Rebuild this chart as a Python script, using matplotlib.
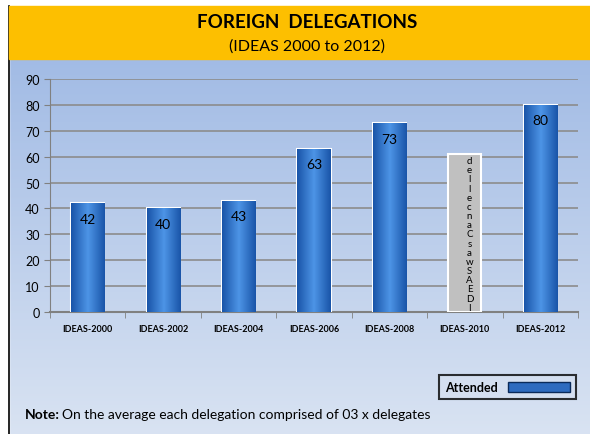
import numpy as np
import matplotlib.pyplot as plt
from matplotlib.patches import Rectangle, Patch

plt.rcParams['font.family'] = ['Lato', 'DejaVu Sans']

categories = ['IDEAS-2000', 'IDEAS-2002', 'IDEAS-2004', 'IDEAS-2006',
              'IDEAS-2008', 'IDEAS-2010', 'IDEAS-2012']
attended = [42, 40, 43, 63, 73, np.nan, 80]
cancelled_height = 61
cancelled_text = 'IDEAS was Cancelled'

fig = plt.figure(figsize=(5.9, 4.35), dpi=100)

# background gradient
bg = fig.add_axes([0, 0, 1, 1], zorder=-10)
grad = np.linspace(0, 1, 256).reshape(-1, 1)
top_c = np.array([0.60, 0.71, 0.89])
bot_c = np.array([0.85, 0.89, 0.95])
img = top_c * (1 - grad[..., None]) + bot_c * grad[..., None]
img = np.repeat(img, 2, axis=1)
bg.imshow(img, aspect='auto', extent=[0, 1, 0, 1])
bg.set_xlim(0, 1)
bg.set_ylim(0, 1)
bg.axis('off')
bg.add_patch(Rectangle((0, 0), 9 / 590, 1, color='white', zorder=2))
bg.plot([9 / 590, 9 / 590], [0, 1 - 7 / 435], color='black', lw=1.2, zorder=3)
bg.add_patch(Rectangle((0, 1 - 7 / 435), 1, 7 / 435, color='white', zorder=2))
bg.add_patch(Rectangle((9 / 590, 1 - 60 / 435), 1, 53 / 435,
                       color='#fdbf00', zorder=3))

fig.text(0.52, 1 - 22 / 435, 'FOREIGN  DELEGATIONS', ha='center', va='center',
         fontsize=13.5, fontweight='bold', color='black')
fig.text(0.52, 1 - 47 / 435, '(IDEAS 2000 to 2012)', ha='center', va='center',
         fontsize=11.5, color='black')

ax = fig.add_axes([50 / 590, 1 - 313 / 435, 528 / 590, 233 / 435])
ax.patch.set_alpha(0)
x = np.arange(len(categories))
w = 0.44

bars = ax.bar(x, attended, w, color='#2e6bbf', edgecolor='white', lw=1.5,
              zorder=3)
# horizontal gradient on bars
cmap_img = np.zeros((2, 128, 3))
dark = np.array([0.10, 0.33, 0.66])
light = np.array([0.30, 0.58, 0.90])
t = np.concatenate([np.linspace(0, 1, 64), np.linspace(1, 0, 64)])
cmap_img[:, :, :] = dark * (1 - t[:, None]) + light * t[:, None]
for b, v in zip(bars, attended):
    if np.isnan(v):
        continue
    im = ax.imshow(cmap_img, aspect='auto', zorder=3.5,
                   extent=[b.get_x(), b.get_x() + b.get_width(), 0, v])
    im.set_clip_path(b)
    ax.text(b.get_x() + b.get_width() / 2, v - 6, f'{int(v)}', ha='center',
            va='center', fontsize=10, color='black', zorder=5)

i10 = categories.index('IDEAS-2010')
ax.bar(i10, cancelled_height, w, color='#c0c0c0', edgecolor='white', lw=1.5,
       zorder=3)
letters = [c for c in cancelled_text[::-1] if c != ' ']
n = len(letters)
ys = np.linspace(cancelled_height - 2.5, 1.8, n)
for c, yy in zip(letters, ys):
    ax.text(i10 + 0.06, yy, c, ha='center', va='center', fontsize=7,
            color='black', zorder=5)

ax.set_xlim(-0.5, len(categories) - 0.5)
ax.set_ylim(0, 90)
ax.set_yticks(np.arange(0, 91, 10))
ax.set_xticks(x)
ax.set_xticklabels(categories, fontsize=6.5, fontweight='bold')
ax.tick_params(axis='y', labelsize=9, length=4, color='#808080')
ax.tick_params(axis='x', length=0, pad=9)
ax.set_xticks(np.arange(-0.5, len(categories), 1), minor=True)
ax.tick_params(axis='x', which='minor', length=4, color='#808080')
ax.grid(axis='y', color='#8c8c8c', lw=1.2, zorder=0)
for s in ['top', 'right']:
    ax.spines[s].set_visible(False)
ax.spines['left'].set_color('#808080')
ax.spines['bottom'].set_color('#808080')
ax.spines['bottom'].set_linewidth(1.5)

leg = fig.legend(handles=[Patch(facecolor='#2e6bbf', edgecolor='#0a2a5a')],
                 labels=['Attended'], loc='center', bbox_to_anchor=(0.86, 1 - 388 / 435),
                 fontsize=9, frameon=True, markerfirst=False, handlelength=5,
                 handleheight=0.9, borderpad=0.45, fancybox=False)
leg.get_frame().set_edgecolor('black')
leg.get_frame().set_linewidth(1.5)
leg.get_frame().set_facecolor('#d6e0f0')
for tx in leg.get_texts():
    tx.set_fontweight('bold')

fig.text(25 / 590, 1 - 415 / 435, 'Note:', fontsize=10, fontweight='bold',
         va='center')
fig.text(62 / 590, 1 - 415 / 435,
         'On the average each delegation comprised of 03 x delegates',
         fontsize=10, va='center')

fig.savefig('out.png', dpi=100)
